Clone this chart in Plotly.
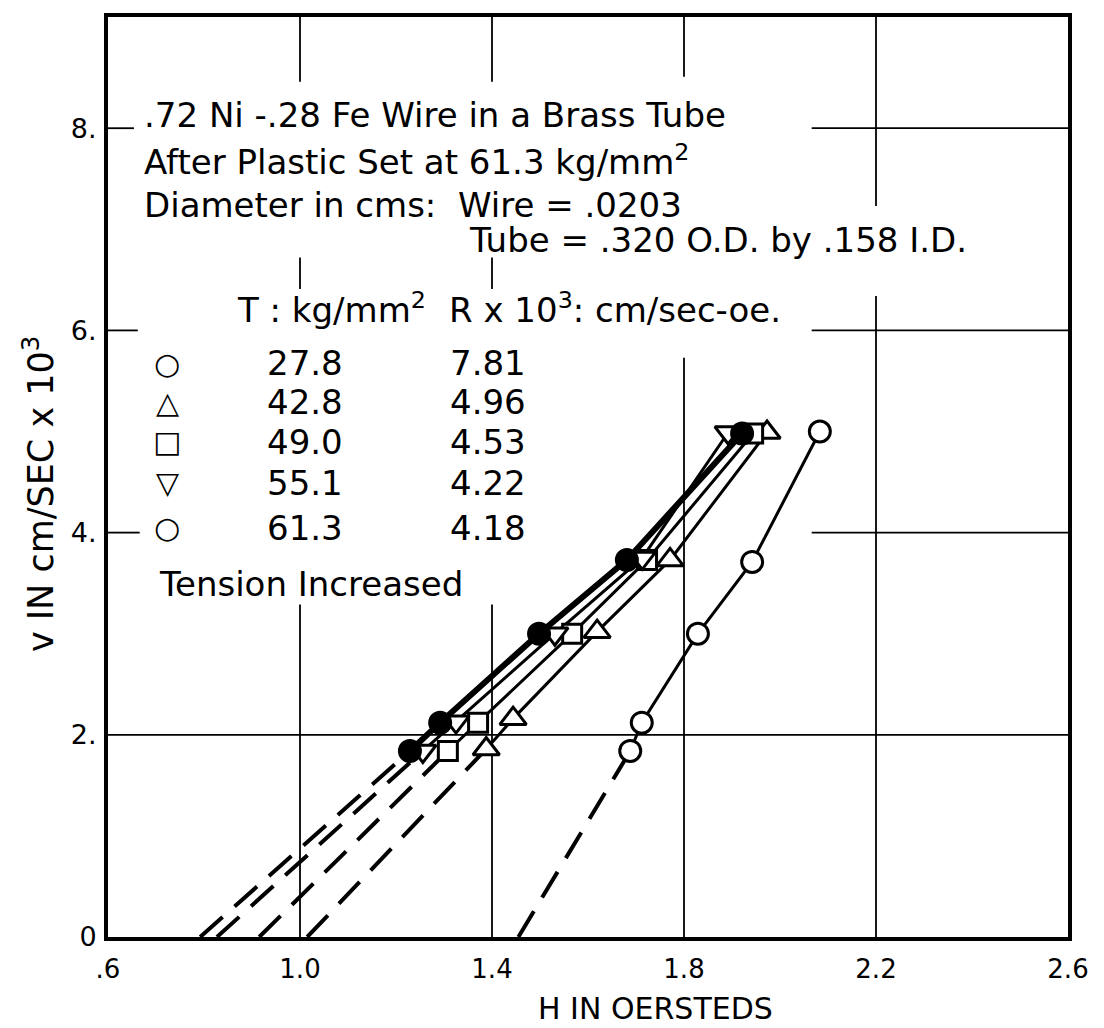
import plotly.graph_objects as go

# ---------------- data ----------------
tension_labels = ["27.8", "42.8", "49.0", "55.1", "61.3"]
r_labels = ["7.81", "4.96", "4.53", "4.22", "4.18"]
table_symbols = ["○", "△", "□", "▽", "○"]

H_278 = [1.688, 1.712, 1.829, 1.942, 2.083]
v_278 = [1.84, 2.12, 3.00, 3.71, 5.00]
H_428 = [1.388, 1.444, 1.619, 1.771, 1.973]
v_428 = [1.86, 2.16, 3.02, 3.73, 4.99]
H_490 = [1.308, 1.371, 1.567, 1.723, 1.944]
v_490 = [1.84, 2.12, 3.00, 3.73, 4.98]
H_551 = [1.256, 1.325, 1.531, 1.713, 1.892]
v_551 = [1.84, 2.13, 3.00, 3.75, 4.99]
H_613 = [1.229, 1.292, 1.498, 1.681, 1.921]
v_613 = [1.84, 2.12, 3.00, 3.73, 4.98]

# extrapolated intercepts (v = 0) of the dashed lines
H_zero = [1.455, 1.015, 0.915, 0.827, 0.792]
v_zero = [0, 0, 0, 0, 0]

x_tickvals = [0.6, 1.0, 1.4, 1.8, 2.2, 2.6]
x_ticktext = [".6", "1.0", "1.4", "1.8", "2.2", "2.6"]
y_tickvals = [0, 2, 4, 6, 8]
y_ticktext = ["0", "2.", "4.", "6.", "8."]

# ---------------- styles ----------------
FONT = "DejaVu Sans"
BLACK = "black"
series_H = [H_278, H_428, H_490, H_551, H_613]
series_v = [v_278, v_428, v_490, v_551, v_613]
marker_syms = ["circle", "triangle-up", "square", "triangle-down", "circle"]
marker_fill = ["white", "white", "white", "white", "black"]
marker_size = [21, 23, 19, 23, 21]
line_w = [3, 3, 3, 3, 6]

fig = go.Figure()

# dashed extrapolations
for H, v, h0, v0 in zip(series_H, series_v, H_zero, v_zero):
    fig.add_trace(go.Scatter(x=[h0, H[0]], y=[v0, v[0]], mode="lines",
                             line=dict(color=BLACK, width=4, dash="30px,16px"),
                             hoverinfo="skip", showlegend=False))
# solid curves
for H, v, lw in zip(series_H, series_v, line_w):
    fig.add_trace(go.Scatter(x=H, y=v, mode="lines",
                             line=dict(color=BLACK, width=lw),
                             showlegend=False))
# markers
for H, v, sym, fill, sz, name in zip(series_H, series_v, marker_syms, marker_fill,
                                     marker_size, tension_labels):
    fig.add_trace(go.Scatter(x=H, y=v, mode="markers", name=name,
                             marker=dict(symbol=sym, size=sz, color=fill,
                                         line=dict(color=BLACK, width=3)),
                             showlegend=False))

# ---------------- partial grid (interrupted by lettering) ----------------
YTOP = 9.1
v_segments = [(1.0, 8.46, YTOP), (1.0, 6.41, 6.72), (1.0, 0, 3.29),
              (1.4, 8.46, YTOP), (1.4, 6.41, 6.72), (1.4, 0, 3.29),
              (1.8, 8.51, YTOP), (1.8, 0, 5.73),
              (2.2, 7.23, YTOP), (2.2, 0, 6.34)]
h_segments = [(8, 0.6, 0.654), (8, 2.066, 2.6),
              (6, 0.6, 0.662), (6, 2.066, 2.6),
              (4, 0.6, 0.666), (4, 2.066, 2.6),
              (2, 0.6, 2.6)]
shapes = []
for xg, y0, y1 in v_segments:
    shapes.append(dict(type="line", xref="x", yref="y", x0=xg, x1=xg, y0=y0, y1=y1,
                       line=dict(color=BLACK, width=1.8), layer="below"))
for yg, x0, x1 in h_segments:
    shapes.append(dict(type="line", xref="x", yref="y", x0=x0, x1=x1, y0=yg, y1=yg,
                       line=dict(color=BLACK, width=1.8), layer="below"))

# ---------------- lettering ----------------
TS = 34
ann = []
def txt(s, x, y, size=TS, xanchor="left", xref="x", yref="y", angle=0):
    ann.append(dict(text=s, x=x, y=y, xref=xref, yref=yref, xanchor=xanchor,
                    yanchor="middle", showarrow=False, textangle=angle,
                    font=dict(family=FONT, size=size, color=BLACK)))

txt(".72 Ni -.28 Fe Wire in a Brass Tube", 0.671, 8.128)
txt("After Plastic Set at 61.3 kg/mm<sup>2</sup>", 0.671, 7.685)
txt("Diameter in cms:  Wire = .0203", 0.671, 7.241)
txt("Tube = .320 O.D. by .158 I.D.", 1.348, 6.897)
txt("T : kg/mm<sup>2</sup>", 0.865, 6.217)
txt("R x 10<sup>3</sup>: cm/sec-oe.", 1.306, 6.217)
row_y = [5.675, 5.291, 4.897, 4.493, 4.049]
for sym, t, r, yy in zip(table_symbols, tension_labels, r_labels, row_y):
    txt("<b>" + sym + "</b>", 0.723, yy, size=30, xanchor="center")
    txt(t, 0.927, yy)
    txt(r, 1.308, yy)
txt("Tension Increased", 0.702, 3.488)

# axis titles
txt("H IN OERSTEDS", 1.74, -0.078, size=30, xanchor="center", yref="paper")
txt("v IN cm/SEC x 10<sup>3</sup>", -0.072, 4.38, size=35, xanchor="center",
    xref="paper", angle=-90)

# page body adds an 8 px offset; margins compensate so the frame lands where the reference has it
fig.update_layout(
    width=1104, height=1028,
    margin=dict(l=100, r=44, t=5, b=99),
    paper_bgcolor="white", plot_bgcolor="white",
    shapes=shapes, annotations=ann, showlegend=False,
    xaxis=dict(range=[0.6, 2.6], tickvals=x_tickvals, ticktext=x_ticktext,
               showgrid=False, zeroline=False, showline=True, mirror=True,
               linecolor=BLACK, linewidth=4, ticks="", ticklabelstandoff=6,
               tickfont=dict(family=FONT, size=26, color=BLACK)),
    yaxis=dict(range=[0, YTOP], tickvals=y_tickvals, ticktext=y_ticktext,
               showgrid=False, zeroline=False, showline=True, mirror=True,
               linecolor=BLACK, linewidth=4, ticks="", ticklabelstandoff=2,
               tickfont=dict(family=FONT, size=27, color=BLACK)),
)

fig.write_html("out.html")
